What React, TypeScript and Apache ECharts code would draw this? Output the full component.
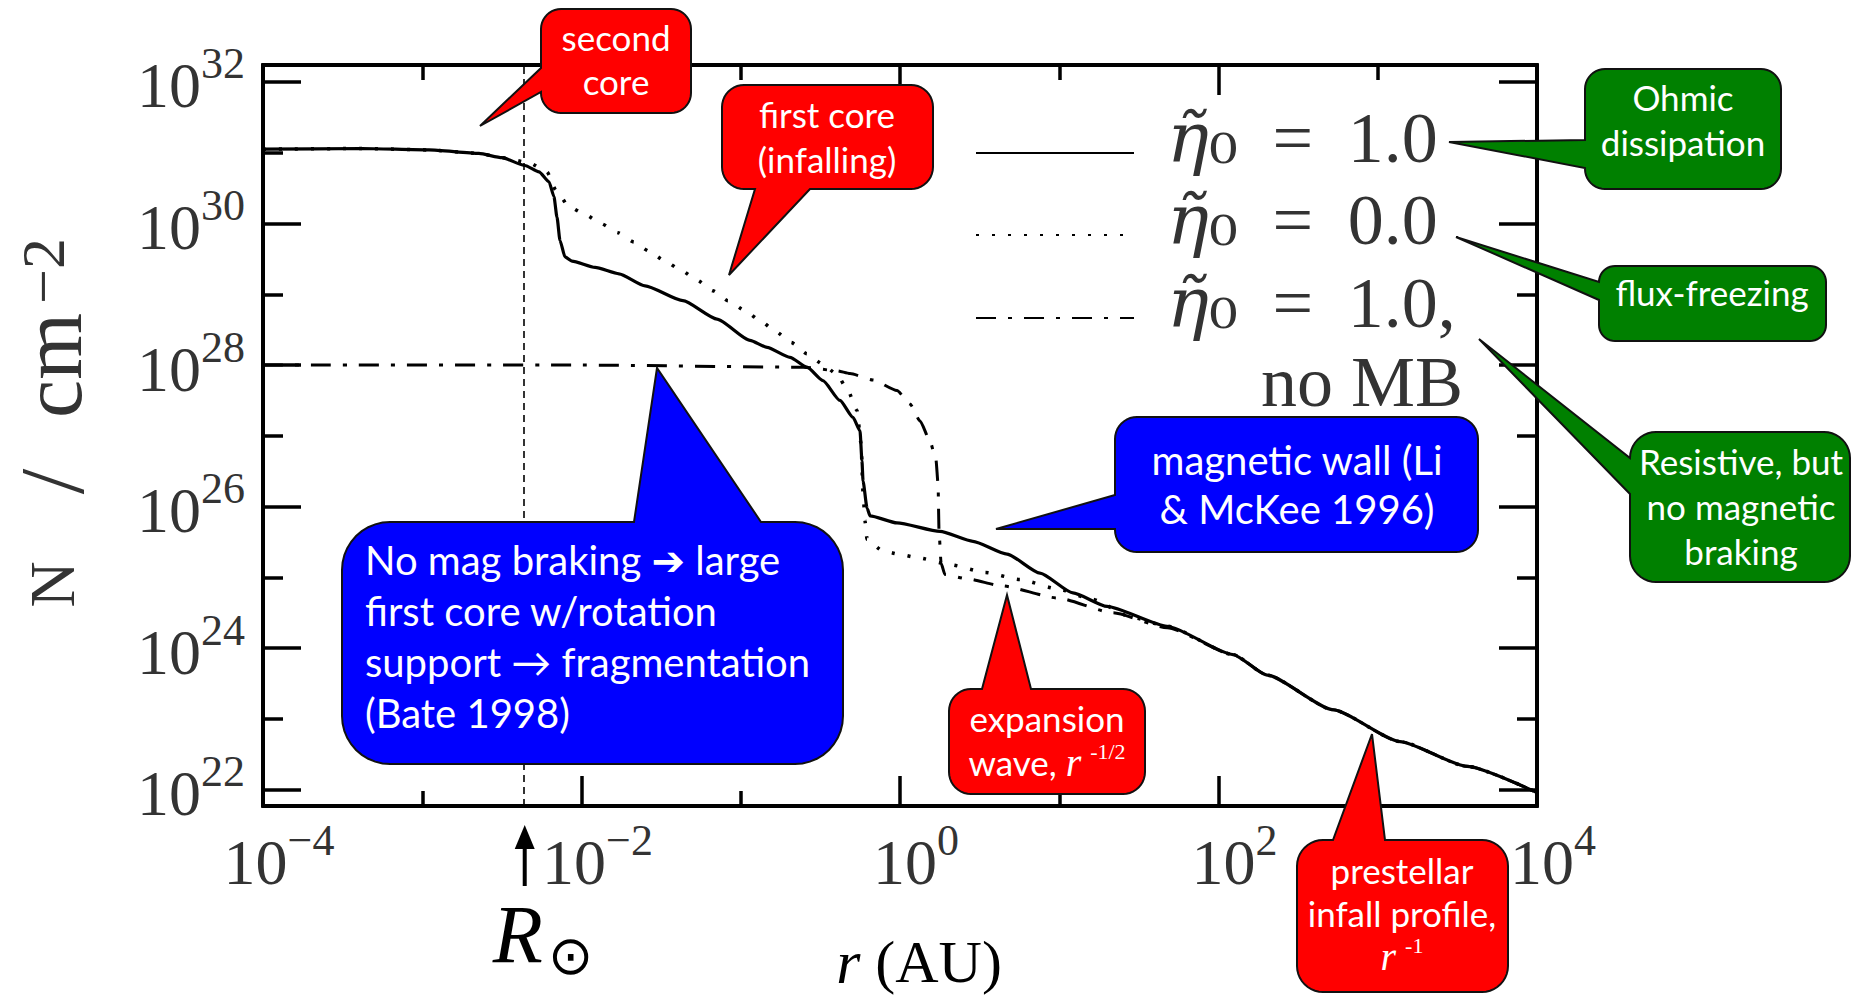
import React, { useEffect, useRef } from 'react';
import * as echarts from 'echarts';

// ---- data (log10 r [AU], log10 N [cm^-2]) ----
// solid: eta0 = 1.0 (Ohmic dissipation)
const solidLogR = [-4.0, -3.378, -2.958, -2.644, -2.499, -2.355, -2.267, -2.204, -2.173, -2.154, -2.135, -2.104, -2.06, -1.915, -1.765, -1.601, -1.363, -1.149, -0.942, -0.835, -0.691, -0.584, -0.484, -0.377, -0.295, -0.251, -0.239, -0.232, -0.207, -0.188, -0.019, 0.251, 0.458, 0.672, 0.879, 1.086, 1.3, 1.677, 2.091, 2.305, 2.719, 3.14, 3.561, 4.0];
const solidLogN = [31.05, 31.06, 31.04, 30.99, 30.93, 30.82, 30.73, 30.59, 30.38, 30.09, 29.76, 29.53, 29.47, 29.38, 29.29, 29.12, 28.91, 28.65, 28.35, 28.25, 28.11, 27.97, 27.78, 27.5, 27.26, 27.07, 26.65, 26.36, 25.98, 25.87, 25.77, 25.65, 25.51, 25.33, 25.06, 24.78, 24.59, 24.31, 23.91, 23.62, 23.13, 22.68, 22.33, 21.96];
// dotted: eta0 = 0.0 (flux freezing)
const dottedLogR = [-4.0, -3.378, -2.958, -2.644, -2.499, -2.33, -2.217, -2.16, -2.079, -1.978, -1.878, -1.771, -1.67, -1.576, -1.476, -1.375, -1.275, -1.174, -1.08, -0.973, -0.879, -0.779, -0.684, -0.584, -0.49, -0.396, -0.327, -0.27, -0.245, -0.232, -0.22, -0.207, -0.113, -0.013, 0.107, 0.314, 0.534, 0.753, 0.986, 1.206, 1.463, 1.677, 2.091, 2.305, 2.719, 3.14, 3.561, 4.0];
const dottedLogN = [31.05, 31.06, 31.04, 30.99, 30.93, 30.86, 30.73, 30.47, 30.24, 30.13, 30.0, 29.87, 29.74, 29.61, 29.47, 29.34, 29.2, 29.05, 28.91, 28.77, 28.63, 28.47, 28.32, 28.16, 28.02, 27.87, 27.64, 27.36, 26.9, 26.2, 25.8, 25.54, 25.38, 25.33, 25.28, 25.18, 25.07, 24.97, 24.84, 24.69, 24.43, 24.31, 23.91, 23.62, 23.13, 22.68, 22.33, 21.96];
// dash-dot: eta0 = 1.0, no magnetic braking
const dashDotLogR = [-4.0, -2.0, -0.609, -0.396, -0.314, -0.17, -0.019, 0.063, 0.126, 0.188, 0.226, 0.239, 0.245, 0.258, 0.282, 0.421, 0.64, 0.986, 1.337, 1.677, 2.091, 2.305, 2.719, 3.14, 3.561, 4.0];
const dashDotLogN = [28.0, 28.0, 27.97, 27.92, 27.88, 27.79, 27.64, 27.45, 27.21, 26.93, 26.66, 26.32, 25.65, 25.2, 25.04, 24.98, 24.88, 24.71, 24.5, 24.29, 23.91, 23.62, 23.13, 22.68, 22.33, 21.96];

const xLabelExponents = [-4, -2, 0, 2, 4];
const xMinorExponents = [-3, -1, 1, 3];
const yLabelExponents = [22, 24, 26, 28, 30, 32];
const yMinorExponents = [23, 25, 27, 29, 31];
const R_SUN_AU = 0.0044;

const NAME_OHMIC = 'η̃₀ = 1.0';
const NAME_FREEZE = 'η̃₀ = 0.0';
const NAME_NOMB = 'η̃₀ = 1.0, no MB';

// ---- styling ----
const X_MIN = -4, X_MAX = 4, Y_MIN = 21.77, Y_MAX = 32.24;
const SERIF = "'Liberation Serif', 'Times New Roman', serif";
const SANS = "Lato, 'Open Sans', 'DejaVu Sans', sans-serif";
const INK = '#333';
const RED = '#ff0000';
const GREEN = '#008000';
const BLUE = '#0000ff';

const fmtExp = (v: number) => (v < 0 ? '−' + Math.abs(v) : String(v));
const pairs = (xs: number[], ys: number[]) => xs.map((x, i) => [x, ys[i]]);

const tickRich = {
  b: { fontFamily: SERIF, fontSize: 64, lineHeight: 88, color: INK },
  s: { fontFamily: SERIF, fontSize: 44, lineHeight: 44, verticalAlign: 'top', color: INK },
};

function xAxisDef(position: string, ticks: number[], len: number, extra: any = {}) {
  return {
    type: 'value', gridIndex: 0, position, min: X_MIN, max: X_MAX,
    axisLine: { show: true, onZero: false, lineStyle: { color: '#000', width: 4 } },
    axisTick: { show: true, inside: true, length: len, customValues: ticks, lineStyle: { color: '#000', width: 3.5 } },
    axisLabel: { show: false },
    splitLine: { show: false },
    ...extra,
  };
}
function yAxisDef(position: string, ticks: number[], len: number, extra: any = {}) {
  return {
    type: 'value', gridIndex: 0, position, min: Y_MIN, max: Y_MAX,
    axisLine: { show: true, onZero: false, lineStyle: { color: '#000', width: 4 } },
    axisTick: { show: true, inside: true, length: len, customValues: ticks, lineStyle: { color: '#000', width: 3.5 } },
    axisLabel: { show: false },
    splitLine: { show: false },
    ...extra,
  };
}

const legendText: Record<string, string> = {
  [NAME_OHMIC]: '{sp| }{eta|η\u0303}{sub|₀}{eq|=}{val|1.0}',
  [NAME_FREEZE]: '{sp| }{eta|η\u0303}{sub|₀}{eq|=}{val|0.0}',
  [NAME_NOMB]: '{sp| }{eta|η\u0303}{sub|₀}{eq|=}{val|1.0,}',
};

function legendDef(name: string, top: number) {
  return {
    orient: 'horizontal', left: 975, top, padding: 0,
    itemWidth: 158, itemHeight: 14, selectedMode: false,
    data: [name],
    itemStyle: { opacity: 0, color: 'rgba(0,0,0,0)', borderWidth: 0 },
    formatter: (n: string) => legendText[n] || n,
    textStyle: {
      color: INK, fontFamily: SERIF, fontSize: 72, lineHeight: 40, padding: [0, 0, 30, 0],
      rich: {
        sp: { width: 28, fontSize: 10, lineHeight: 40 },
        eta: { fontFamily: "'DejaVu Serif', serif", fontStyle: 'italic', fontSize: 70, lineHeight: 40, color: INK },
        sub: { fontFamily: "'DejaVu Serif', serif", fontSize: 72, lineHeight: 40, color: INK },
        eq: { fontFamily: SERIF, fontSize: 72, lineHeight: 40, width: 110, align: 'center', color: INK },
        val: { fontFamily: SERIF, fontSize: 72, lineHeight: 40, color: INK },
      },
    },
  };
}

function buildOption(): any {
  const lineCommon = { type: 'line', symbol: 'none', smooth: 0.2, smoothMonotone: 'x', emphasis: { disabled: true }, itemStyle: { color: '#000' } };
  return {
    animation: false,
    backgroundColor: '#fff',
    textStyle: { fontFamily: SERIF },
    grid: { left: 263, top: 65, width: 1274, height: 741, containLabel: false, outerBoundsMode: 'none' },
    xAxis: [
      xAxisDef('bottom', xLabelExponents, 30, {
        axisLabel: {
          show: true, customValues: xLabelExponents, margin: 12, padding: [0, 0, 0, 32],
          formatter: (v: number) => `{b|10}{s|${fmtExp(v)}}`, rich: tickRich,
        },
        name: '{i|r} (AU)', nameLocation: 'middle', nameGap: 127,
        nameTextStyle: {
          fontFamily: SERIF, fontSize: 60, lineHeight: 58, color: '#000', padding: [0, 0, 0, 38],
          rich: { i: { fontFamily: SERIF, fontStyle: 'italic', fontSize: 62, lineHeight: 58, color: '#000' } },
        },
      }),
      xAxisDef('bottom', xMinorExponents, 15),
      xAxisDef('top', xLabelExponents, 30),
      xAxisDef('top', xMinorExponents, 15),
    ],
    yAxis: [
      yAxisDef('left', yLabelExponents, 38, {
        axisLabel: {
          show: true, customValues: yLabelExponents, margin: 18, padding: [8, 0, 0, 0],
          formatter: (v: number) => `{b|10}{s|${fmtExp(v)}}`, rich: tickRich,
        },
        name: '{n|N}{sl|/}{cm|cm}{s|−2}', nameLocation: 'middle', nameRotate: 90, nameGap: 171,
        nameTextStyle: {
          color: INK, fontFamily: SERIF,
          rich: {
            n: { fontFamily: SERIF, fontSize: 64, width: 97, lineHeight: 80, color: INK },
            sl: { fontFamily: SERIF, fontSize: 92, width: 109, lineHeight: 80, color: INK },
            cm: { fontFamily: SERIF, fontSize: 86, width: 123, lineHeight: 80, color: INK },
            s: { fontFamily: SERIF, fontSize: 62, lineHeight: 50, verticalAlign: 'top', color: INK },
          },
        },
      }),
      yAxisDef('left', yMinorExponents, 20),
      yAxisDef('right', yLabelExponents, 38),
      yAxisDef('right', yMinorExponents, 20),
    ],
    legend: [legendDef(NAME_OHMIC, 102), legendDef(NAME_FREEZE, 184), legendDef(NAME_NOMB, 267)],
    series: [
      {
        ...lineCommon,
        name: NAME_OHMIC, data: pairs(solidLogR, solidLogN), z: 4,
        lineStyle: { color: '#000', width: 3.2, type: 'solid' },
        markLine: {
          silent: true, symbol: ['none', 'none'], label: { show: false },
          lineStyle: { color: '#000', width: 1.6, type: [7, 5] },
          emphasis: { disabled: true },
          data: [{ xAxis: Math.log10(R_SUN_AU) }],
        },
      },
      {
        ...lineCommon,
        name: NAME_FREEZE, data: pairs(dottedLogR, dottedLogN), z: 3,
        lineStyle: { color: '#000', width: 3.5, type: [3, 13] },
      },
      {
        ...lineCommon,
        name: NAME_NOMB, data: pairs(dashDotLogR, dashDotLogN), z: 3,
        lineStyle: { color: '#000', width: 3, type: [20, 12, 4, 12] },
      },
    ],
  };
}

type Ptr = { side: 'top' | 'bottom' | 'left' | 'right'; from: number; to: number; tip: [number, number] };
function calloutPoints(x: number, y: number, w: number, h: number, r: number, p: Ptr) {
  const pts: number[][] = [];
  const arc = (cx: number, cy: number, a0: number, a1: number) => {
    const n = 10;
    for (let i = 0; i <= n; i++) {
      const a = a0 + ((a1 - a0) * i) / n;
      pts.push([cx + r * Math.cos(a), cy + r * Math.sin(a)]);
    }
  };
  arc(x + r, y + r, Math.PI, 1.5 * Math.PI);
  if (p.side === 'top') pts.push([p.from, y], p.tip, [p.to, y]);
  arc(x + w - r, y + r, 1.5 * Math.PI, 2 * Math.PI);
  if (p.side === 'right') pts.push([x + w, p.from], p.tip, [x + w, p.to]);
  arc(x + w - r, y + h - r, 0, 0.5 * Math.PI);
  if (p.side === 'bottom') pts.push([p.to, y + h], p.tip, [p.from, y + h]);
  arc(x + r, y + h - r, 0.5 * Math.PI, Math.PI);
  if (p.side === 'left') pts.push([x, p.to], p.tip, [x, p.from]);
  return pts;
}

const calloutRich = {
  i: { fontFamily: SERIF, fontStyle: 'italic', fontSize: 40, lineHeight: 44, fill: '#fff' },
  s: { fontFamily: SERIF, fontSize: 22, lineHeight: 22, verticalAlign: 'top', fill: '#fff' },
};

const callouts: any[] = [
  { box: [541, 9, 150, 104], r: 20, fill: RED, ptr: { side: 'left', from: 68, to: 92, tip: [480, 126] }, text: 'second\ncore', tx: 616, ty: 59, fs: 35, lh: 44 },
  { box: [722, 85, 211, 104], r: 22, fill: RED, ptr: { side: 'bottom', from: 755, to: 810, tip: [729, 275] }, text: 'first core\n(infalling)', tx: 827, ty: 136, fs: 35, lh: 45 },
  { box: [1585, 69, 196, 120], r: 20, fill: GREEN, ptr: { side: 'left', from: 140, to: 168, tip: [1449, 142] }, text: 'Ohmic\ndissipation', tx: 1683, ty: 119, fs: 35, lh: 45 },
  { box: [1599, 266, 227, 75], r: 16, fill: GREEN, ptr: { side: 'left', from: 282, to: 300, tip: [1456, 237] }, text: 'flux-freezing', tx: 1712, ty: 292, fs: 35, lh: 45 },
  { box: [1630, 432, 220, 150], r: 26, fill: GREEN, ptr: { side: 'left', from: 458, to: 494, tip: [1479, 339] }, text: 'Resistive, but\nno magnetic\nbraking', tx: 1741, ty: 506, fs: 35, lh: 45 },
  { box: [1115, 417, 363, 135], r: 22, fill: BLUE, ptr: { side: 'left', from: 495, to: 529, tip: [996, 529] }, text: 'magnetic wall (Li\n& McKee 1996)', tx: 1297, ty: 484, fs: 40, lh: 49 },
  { box: [342, 522, 501, 242], r: 48, fill: BLUE, ptr: { side: 'top', from: 634, to: 761, tip: [657, 368] }, text: 'No mag braking ➔ large\nfirst core w/rotation\nsupport → fragmentation\n(Bate 1998)', tx: 365, ty: 636, fs: 40, lh: 51, align: 'left' },
  { box: [949, 689, 196, 105], r: 22, fill: RED, ptr: { side: 'top', from: 982, to: 1031, tip: [1007, 595] }, text: 'expansion\nwave, {i|r} {s|-1/2}', tx: 1047, ty: 740, fs: 35, lh: 44 },
  { box: [1297, 840, 211, 152], r: 26, fill: RED, ptr: { side: 'top', from: 1333, to: 1385, tip: [1372, 734] }, text: 'prestellar\ninfall profile,\n{i|r} {s|-1}', tx: 1402, ty: 913, fs: 35, lh: 43 },
];

function buildGraphics(ax: number): any[] {
  const g: any[] = [];
  callouts.forEach((c) => {
    const [x, y, w, h] = c.box;
    g.push({
      type: 'polygon', z: 100, silent: true,
      shape: { points: calloutPoints(x, y, w, h, c.r, c.ptr) },
      style: { fill: c.fill, stroke: '#111', lineWidth: 2, lineJoin: 'miter' },
    });
    g.push({
      type: 'text', z: 101, silent: true, x: c.tx, y: c.ty,
      style: {
        text: c.text, fill: '#fff', fontFamily: SANS, fontSize: c.fs, lineHeight: c.lh,
        align: c.align || 'center', verticalAlign: 'middle', rich: calloutRich,
      },
    });
  });
  // "no MB" continuation of the third legend entry
  g.push({
    type: 'text', z: 50, silent: true, x: 1463, y: 382,
    style: { text: 'no MB', fill: INK, fontFamily: SERIF, fontSize: 72, align: 'right', verticalAlign: 'middle' },
  });
  // R_sun arrow below the axis
  g.push({ type: 'line', z: 50, silent: true, shape: { x1: ax, y1: 886, x2: ax, y2: 842 }, style: { stroke: '#000', lineWidth: 4 } });
  g.push({ type: 'polygon', z: 50, silent: true, shape: { points: [[ax, 825], [ax - 10, 849], [ax + 10, 849]] }, style: { fill: '#000' } });
  g.push({
    type: 'text', z: 50, silent: true, x: ax - 7, y: 934,
    style: { text: 'R', fill: '#000', fontFamily: SERIF, fontStyle: 'italic', fontSize: 82, align: 'center', verticalAlign: 'middle' },
  });
  g.push({
    type: 'text', z: 50, silent: true, x: ax + 46, y: 955,
    style: { text: '⊙', fill: '#000', fontFamily: "'DejaVu Sans', sans-serif", fontSize: 54, align: 'center', verticalAlign: 'middle' },
  });
  return g;
}

export default function App() {
  const ref = useRef<HTMLDivElement>(null);
  useEffect(() => {
    const chart = echarts.init(ref.current!, null, { renderer: 'svg' });
    chart.setOption(buildOption());
    const ax = chart.convertToPixel({ xAxisIndex: 0 }, Math.log10(R_SUN_AU)) as unknown as number;
    chart.setOption({ graphic: buildGraphics(ax) });
    return () => chart.dispose();
  }, []);
  return (
    <div
      ref={ref}
      style={{ position: 'absolute', left: 0, top: 0, width: 1851, height: 997, background: '#fff' }}
    />
  );
}
